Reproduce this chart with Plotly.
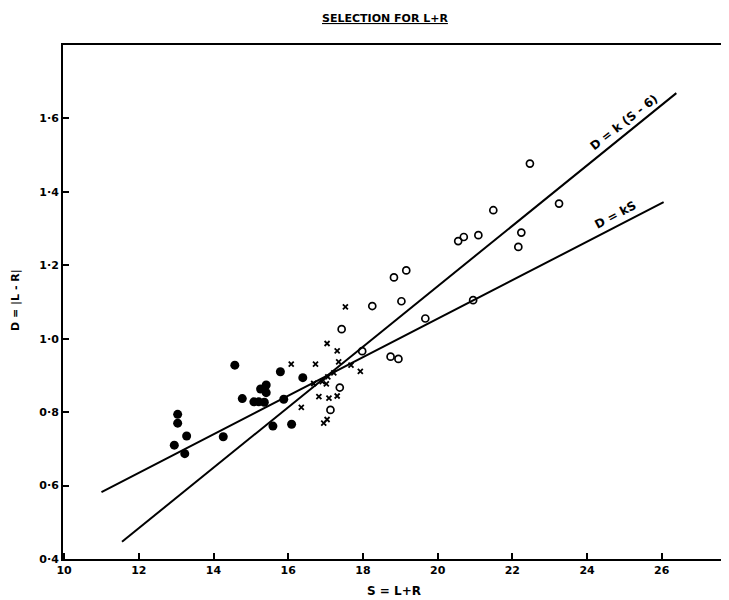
import plotly.graph_objects as go

# Readings taken from the figure "Selection for L+R"
# filled dots
dot_s = [12.95, 13.04, 13.04, 13.28, 13.23, 14.26, 14.57, 14.77, 15.08, 15.21,
         15.36, 15.26, 15.41, 15.41, 15.79, 15.88, 15.59, 16.09, 16.39]
dot_d = [0.710, 0.794, 0.770, 0.735, 0.687, 0.733, 0.928, 0.837, 0.828, 0.828,
         0.827, 0.863, 0.874, 0.853, 0.910, 0.835, 0.762, 0.767, 0.894]

# crosses
cross_s = [16.08, 17.53, 16.73, 17.04, 17.31, 17.35, 17.68, 17.93, 17.22, 17.06,
           16.68, 16.91, 17.02, 16.82, 17.09, 17.31, 16.35, 17.04, 16.95]
cross_d = [0.931, 1.087, 0.931, 0.987, 0.967, 0.937, 0.928, 0.911, 0.907, 0.896,
           0.878, 0.883, 0.877, 0.842, 0.838, 0.844, 0.813, 0.780, 0.770]

# open circles
ring_s = [22.47, 23.25, 21.49, 22.24, 22.16, 20.55, 20.70, 21.09, 18.83, 19.16,
          19.03, 18.25, 20.95, 19.67, 17.43, 17.98, 18.74, 18.95, 17.38, 17.13]
ring_d = [1.477, 1.368, 1.350, 1.289, 1.250, 1.266, 1.277, 1.282, 1.167, 1.186,
          1.102, 1.089, 1.105, 1.055, 1.026, 0.966, 0.951, 0.945, 0.867, 0.806]

# fitted lines (end points)
line_k6_s = [11.55, 26.39]
line_k6_d = [0.447, 1.669]
line_ks_s = [11.0, 26.05]
line_ks_d = [0.582, 1.372]

x_ticks = [10, 12, 14, 16, 18, 20, 22, 24, 26]
y_ticks = [0.4, 0.6, 0.8, 1.0, 1.2, 1.4, 1.6]
y_tick_text = ["0·4", "0·6", "0·8", "1·0", "1·2", "1·4", "1·6"]

FONT = "DejaVu Sans"


def bold(size):
    return dict(family=FONT, size=size, color="black", weight="bold")


fig = go.Figure()

fig.add_trace(go.Scatter(x=line_k6_s, y=line_k6_d, mode="lines",
                         line=dict(color="black", width=2), hoverinfo="skip"))
fig.add_trace(go.Scatter(x=line_ks_s, y=line_ks_d, mode="lines",
                         line=dict(color="black", width=2), hoverinfo="skip"))

fig.add_trace(go.Scatter(x=dot_s, y=dot_d, mode="markers",
                         marker=dict(symbol="circle", size=9, color="black")))
fig.add_trace(go.Scatter(x=cross_s, y=cross_d, mode="markers",
                         marker=dict(symbol="x-thin", size=5, color="black",
                                     line=dict(color="black", width=1.8))))
fig.add_trace(go.Scatter(x=ring_s, y=ring_d, mode="markers",
                         marker=dict(symbol="circle-open", size=7, color="black",
                                     line=dict(color="black", width=1.7))))

# labels on the lines
fig.add_annotation(x=25.0, y=1.59, text="D = k (S - 6)", showarrow=False,
                   textangle=-38, font=bold(12))
fig.add_annotation(x=24.76, y=1.337, text="D = kS", showarrow=False,
                   textangle=-28, font=bold(12))

# title and axis titles (page has an 8px body margin, so figure coords are shifted)
fig.add_annotation(xref="paper", yref="paper", x=0.4835, y=1.0525,
                   xanchor="center", yanchor="middle",
                   text="<u>SELECTION FOR L+R</u>", showarrow=False, font=bold(11))
fig.add_annotation(xref="paper", yref="paper", x=0.497, y=-0.0623,
                   xanchor="center", yanchor="middle",
                   text="S = L+R", showarrow=False, font=bold(12))
fig.add_annotation(xref="paper", yref="paper", x=-0.0706, y=0.504,
                   xanchor="center", yanchor="middle",
                   text="D = |L - R|", showarrow=False, textangle=-90,
                   font=bold(11))

fig.update_layout(
    width=721, height=592,
    margin=dict(l=55, r=0, t=37, b=41),
    plot_bgcolor="white", paper_bgcolor="white",
    showlegend=False,
    font=bold(11),
)
fig.update_xaxes(range=[9.97, 27.8], tickvals=x_ticks, ticks="inside",
                 ticklen=6, tickwidth=1.5, tickcolor="black", tickfont=bold(11),
                 showline=True, linecolor="black", linewidth=2, mirror=True,
                 showgrid=False, zeroline=False)
fig.update_yaxes(range=[0.4, 1.8], tickvals=y_ticks, ticktext=y_tick_text,
                 ticks="inside", ticklen=6, tickwidth=1.5, tickcolor="black",
                 tickfont=bold(11),
                 showline=True, linecolor="black", linewidth=2,
                 showgrid=False, zeroline=False)

fig.write_html("out.html")
